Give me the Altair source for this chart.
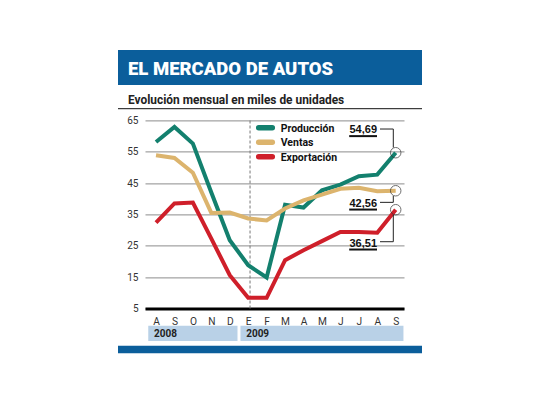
import altair as alt
import pandas as pd

# ---------------- data ----------------
months = ["A", "S", "O", "N", "D", "E", "F", "M", "A", "M", "J", "J", "A", "S"]
years = ["2008"] * 5 + ["2009"] * 9
produccion = [58.1, 62.9, 57.6, 42.0, 26.8, 18.8, 14.9, 38.1, 37.2, 42.7, 44.5, 47.2, 47.7, 54.69]
ventas = [53.9, 53.0, 48.3, 35.5, 35.6, 33.7, 33.1, 36.9, 39.5, 41.3, 43.2, 43.5, 42.4, 42.56]
exportacion = [32.4, 38.5, 38.8, 27.3, 15.6, 8.4, 8.4, 20.4, 23.6, 26.5, 29.4, 29.4, 29.2, 36.51]
series_names = ["Producción", "Ventas", "Exportación"]
series_colors = ["#13806e", "#dcb46d", "#cf1f2a"]
end_labels = ["54,69", "42,56", "36,51"]
y_ticks = [5, 15, 25, 35, 45, 55, 65]
title_text = "EL MERCADO DE AUTOS"
subtitle_text = "Evolución mensual en miles de unidades"

# ---------------- styling / layout ----------------
NARROW = "Roboto, sans-serif"
SANS = "Liberation Sans, Arial, sans-serif"
BLUE = "#0b5e9b"
LIGHT_BLUE = "#b9d1e7"
W, H = 259, 188.1
XMIN, XMAX = -0.597, 13.45
YMIN, YMAX = 5, 65
PX_X = W / (XMAX - XMIN)
PX_Y = H / (YMAX - YMIN)


def ux(p):
    return p / PX_X


def uy(p):
    return -p / PX_Y


xscale = alt.Scale(domain=[XMIN, XMAX], nice=False, zero=False)
yscale = alt.Scale(domain=[YMIN, YMAX], nice=False, zero=False)
months_js = "[" + ",".join(f"'{m}'" for m in months) + "]"
xaxis = alt.Axis(values=list(range(len(months))), labelExpr=f"{months_js}[datum.value]",
                 grid=False, ticks=False, domain=True, domainColor="#000", domainWidth=3,
                 labelFont=NARROW, labelFontSize=10.2, labelColor="#333",
                 labelBaseline="alphabetic", labelPadding=15.6, title=None)
yaxis = alt.Axis(values=y_ticks, grid=True, gridColor="#8c8c8c", gridWidth=1,
                 ticks=False, domain=False, labelFont=NARROW, labelFontSize=10,
                 labelColor="#333", labelPadding=7, title=None)


def X(f):
    return alt.X(f, scale=xscale, axis=xaxis)


def Y(f):
    return alt.Y(f, scale=yscale, axis=yaxis)


one = pd.DataFrame({"k": [0]})

# ---------------- lines ----------------
rows = []
for name, vals in zip(series_names, [produccion, ventas, exportacion]):
    for i, v in enumerate(vals):
        rows.append({"serie": name, "i": i, "v": v})
df = pd.DataFrame(rows)
color = alt.Color("serie:N", scale=alt.Scale(domain=series_names, range=series_colors), legend=None)

lines = alt.Chart(df).mark_line(strokeWidth=4, strokeJoin="miter").encode(
    x=X("i:Q"), y=Y("v:Q"), color=color, order="i:Q")

# dashed year separator at "E"
sep = alt.Chart(pd.DataFrame({"i": [years.index("2009") + 0.1], "a": [YMIN], "b": [YMAX]})).mark_rule(
    color="#777", strokeDash=[3, 2], strokeWidth=1).encode(x=X("i:Q"), y=Y("a:Q"), y2="b:Q")

# ---------------- decorations ----------------
def rect(x1, x2, y1, y2, c):
    return alt.Chart(one).mark_rect(color=c).encode(
        x=alt.value(x1), x2=alt.value(x2), y=alt.value(y1), y2=alt.value(y2))


title_bar = rect(-27, 277, -70.4, -35.4, BLUE)
bottom_bar = rect(-27, 277, 225.3, 232.9, BLUE)
sub_rule = alt.Chart(one).mark_rule(color="#111", strokeWidth=1).encode(
    x=alt.value(-27), x2=alt.value(277), y=alt.value(-11.7))
title = alt.Chart(one).mark_text(align="left", baseline="alphabetic", font=NARROW,
                                 fontWeight=900, fontSize=18.5, color="white").encode(
    x=alt.value(-17), y=alt.value(-45.4), text=alt.value(title_text))
subtitle = alt.Chart(one).mark_text(align="left", baseline="alphabetic", font=NARROW,
                                    fontWeight="bold", fontSize=11.9, color="#222").encode(
    x=alt.value(-17), y=alt.value(-16.1), text=alt.value(subtitle_text))

# year bars
yrows = []
for yname in dict.fromkeys(years):
    idx = [i for i, y in enumerate(years) if y == yname]
    yrows.append({"year": yname, "x": max(idx[0] - 0.42, XMIN), "x2": idx[-1] + 0.42})
ydf = pd.DataFrame(yrows)
year_bars = alt.Chart(ydf).mark_rect(color=LIGHT_BLUE).encode(
    x=X("x:Q"), x2="x2:Q", y=alt.value(205.3), y2=alt.value(220.6))
year_text = alt.Chart(ydf).mark_text(align="left", baseline="alphabetic", dx=5.7, font=NARROW,
                                     fontWeight="bold", fontSize=10, color="#222").encode(
    x=X("x:Q"), y=alt.value(216.6), text="year:N")

# legend
legend_layers = []
for k, (name, c) in enumerate(zip(series_names, series_colors)):
    ypos = 7.3 + k * 14.5
    legend_layers.append(alt.Chart(one).mark_rule(color=c, strokeWidth=5.5, strokeCap="round").encode(
        x=alt.value(113.7), x2=alt.value(127.3), y=alt.value(ypos)))
    legend_layers.append(alt.Chart(one).mark_text(align="left", baseline="alphabetic", font=NARROW,
                                                  fontWeight="bold", fontSize=10.5, color="#111").encode(
        x=alt.value(135.7), y=alt.value(ypos + 4), text=alt.value(name)))

# end-point annotations
label_dy = [-19.4, 16.0, 37.0]
conn = [
    [(-15.7, -23.7, -2.4, -23.7), (-2.4, -23.7, -2.4, -5.2)],
    [(-15.7, 11.6, -2.4, 11.6), (-2.4, 11.6, -2.4, 5.2)],
    [(-2.4, 5.2, -2.4, 32.0), (-15.7, 32.0, -2.4, 32.0)],
]
last_i = len(months) - 1
ends = pd.DataFrame({"i": [last_i] * 3, "v": [produccion[-1], ventas[-1], exportacion[-1]]})
circles = alt.Chart(ends).mark_point(shape="circle", size=110, filled=False, color="#333",
                                     strokeWidth=1).encode(x=X("i:Q"), y=Y("v:Q"))
seg_rows, lab_rows = [], []
for k, v in enumerate(ends["v"]):
    for (a, b, c2, d) in conn[k]:
        seg_rows.append({"i": last_i + ux(a), "i2": last_i + ux(c2), "v": v + uy(b), "v2": v + uy(d)})
    lab_rows.append({"i": last_i + ux(-18.7), "v": v + uy(label_dy[k]), "t": end_labels[k],
                     "u1": last_i + ux(-46.5), "uv": v + uy(label_dy[k] + 2.8)})
segs = alt.Chart(pd.DataFrame(seg_rows)).mark_rule(color="#222", strokeWidth=1).encode(
    x=X("i:Q"), x2="i2:Q", y=Y("v:Q"), y2="v2:Q")
ldf = pd.DataFrame(lab_rows)
labels = alt.Chart(ldf).mark_text(align="right", baseline="alphabetic", font=SANS,
                                  fontWeight="bold", fontSize=11, color="#111").encode(
    x=X("i:Q"), y=Y("v:Q"), text="t:N")
underl = alt.Chart(ldf).mark_rule(color="#111", strokeWidth=2).encode(
    x=X("u1:Q"), x2="i:Q", y=Y("uv:Q"))

chart = alt.layer(
    title_bar, sub_rule, title, subtitle, year_bars, year_text, bottom_bar,
    sep, lines, circles, segs, labels, underl, *legend_layers
).properties(
    width=W, height=H,
    autosize=alt.AutoSizeParams(type="none"),
    padding={"left": 137, "top": 112.4, "right": 120, "bottom": 80},
    background="white",
).configure_view(stroke=None)

chart.save("out.html", embed_options={"renderer": "svg", "actions": False})
